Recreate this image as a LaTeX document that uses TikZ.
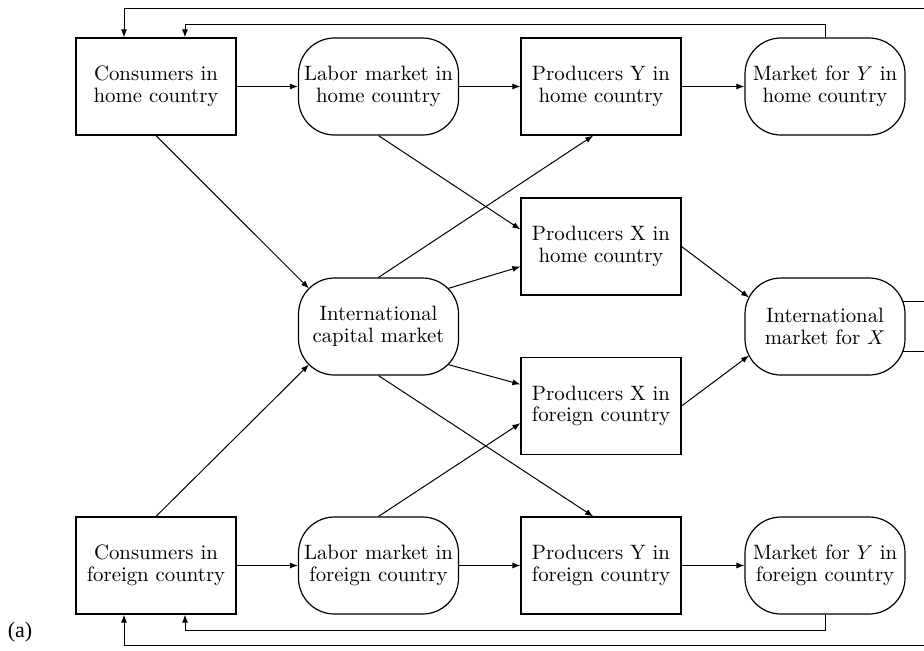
\documentclass[tikz,border=0pt]{standalone}
\usepackage{fontspec}
\newfontfamily\timesfont{Liberation Serif}
\usetikzlibrary{arrows.meta,calc}
\tikzset{
  box/.style={draw,line width=0.6pt,rectangle,minimum width=80pt,minimum height=48.5pt,inner sep=0pt,align=center,font=\fontsize{10.4}{10.8}\selectfont},
  mkt/.style={box,rounded corners=18pt},
  arr/.style={line width=0.5pt,-{Latex[length=4pt,width=3pt]}},
}
\begin{document}
\begin{tikzpicture}[x=0.5pt,y=-0.5pt]
\useasboundingbox (0,0) rectangle (924,650);
\clip (0,0) rectangle (924,650);
% nodes
\node[box] (ch) at (156,86.5) {Consumers in\\home country};
\node[mkt] (lh) at (378.5,86.5) {Labor market in\\home country};
\node[box] (pyh) at (601,86.5) {Producers Y in\\home country};
\node[mkt] (myh) at (825,86.5) {Market for $Y$ in\\home country};
\node[box] (pxh) at (601,246.5) {Producers X in\\home country};
\node[mkt] (cap) at (378.5,326.5) {International\\capital market};
\node[mkt] (ix) at (825,326.5) {International\\market for $X$};
\node[box] (pxf) at (601,406) {Producers X in\\foreign country};
\node[box] (cf) at (156,565.5) {Consumers in\\foreign country};
\node[mkt] (lf) at (378.5,565.5) {Labor market in\\foreign country};
\node[box] (pyf) at (601,565.5) {Producers Y in\\foreign country};
\node[mkt] (myf) at (825,565.5) {Market for $Y$ in\\foreign country};
\node[font=\timesfont\fontsize{11}{13}\selectfont] (lbl) at (20,632) {(a)};
% row arrows
\draw[arr] (ch) -- (lh);
\draw[arr] (lh) -- (pyh);
\draw[arr] (pyh) -- (myh);
\draw[arr] (cf) -- (lf);
\draw[arr] (lf) -- (pyf);
\draw[arr] (pyf) -- (myf);
% diagonals
\draw[arr] (ch.south) -- ($(cap)+(-69.5,-38)$);
\draw[arr] (cf.north) -- ($(cap)+(-69.5,38)$);
\draw[arr] (cap.north) -- (pyh.261);
\draw[arr] (cap.south) -- (pyf.99);
\draw[arr] ($(cap)+(69.5,-38)$) -- (pxh.194.7);
\draw[arr] ($(cap)+(69.5,38)$) -- (pxf.165.3);
\draw[arr] (lh.south) -- (pxh.168.7);
\draw[arr] (lf.north) -- (pxf.192.7);
\draw[arr] (pxh.east) -- ($(ix)+(-76,-29)$);
\draw[arr] (pxf.east) -- ($(ix)+(-76,29)$);
% feedback loops
\coordinate (tr) at (940,8);
\coordinate (br) at (940,645);
\draw[arr] ($(ix)+(77.8,-25)$) -- (940,301.5) -- (tr) -| ([xshift=-16pt]ch.north);
\draw[arr] ($(ix)+(77.8,25)$) -- (940,351.5) -- (br) -| ([xshift=-16pt]cf.south);
\draw[arr] (myh.north) |- (825,24) -| ([xshift=14.5pt]ch.north);
\draw[arr] (myf.south) |- (825,630) -| ([xshift=14.5pt]cf.south);
\end{tikzpicture}
\end{document}
